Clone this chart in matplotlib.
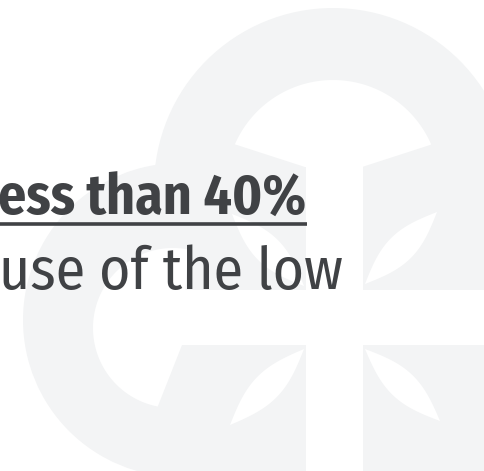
import matplotlib
matplotlib.use('Agg')
import matplotlib.pyplot as plt
import numpy as np
from matplotlib.patches import Circle, Rectangle, Polygon

# slide text (cropped slide, only the visible parts)
line1 = "ess than 40%"
line2 = "use of the low"

W, H = 484, 471
TEXT = '#404245'
LOGO = '#f3f4f5'
FONT = ['Fira Sans Condensed', 'PT Sans', 'DejaVu Sans']

fig = plt.figure(figsize=(W / 100, H / 100), dpi=100)
ax = fig.add_axes([0, 0, 1, 1])
ax.set_xlim(0, W)
ax.set_ylim(H, 0)
ax.axis('off')


def arc(cx, cy, r, t0, t1, n=80):
    t = np.radians(np.linspace(t0, t1, n))
    return np.column_stack([cx + r * np.cos(t), cy + r * np.sin(t)])


def leaf(p1, p2, w):
    p1, p2 = np.array(p1, float), np.array(p2, float)
    d = p2 - p1
    nrm = np.array([-d[1], d[0]]) / np.hypot(*d)
    t = np.linspace(0, 1, 40)
    side1 = p1 + np.outer(t, d) + np.outer(w * np.sin(np.pi * t), nrm)
    side2 = p1 + np.outer(t[::-1], d) - np.outer(w * np.sin(np.pi * t[::-1]), nrm)
    return np.vstack([side1, side2])


# faint background logo
ax.add_patch(Circle((333, 187), 179, color=LOGO, lw=0))
ax.add_patch(Circle((180, 320), 157, color=LOGO, lw=0))
ax.add_patch(Rectangle((200, 143), 290, 330, color=LOGO, lw=0))

# inner of lower-left ring
pts = arc(173, 328, 80, 280, 101)
pts = np.vstack([pts, [[182, 345], [188, 250]]])
ax.add_patch(Polygon(pts, closed=True, color='white', lw=0))

# inner cap of the upper ring
cap = arc(333, 187, 107, 203.5, 336.5)
cap = np.vstack([cap, [[430, 145], [362, 167], [305, 167], [237, 145]]])
ax.add_patch(Polygon(cap, closed=True, color='white', lw=0))

# the cross
ax.add_patch(Rectangle((120, 290), 370, 55, color='white', lw=0))
ax.add_patch(Rectangle((306, 160), 57, 320, color='white', lw=0))

# leaves
for a, b in [((365, 284), (437, 212)), ((365, 349), (440, 421)),
             ((304, 349), (230, 425)), ((304, 286), (232, 214))]:
    ax.add_patch(Polygon(leaf(a, b, 14), closed=True, color='white', lw=0))

# text
fs = 40
t1 = ax.text(306, 215, line1, fontsize=fs, family=FONT, fontweight='bold',
             color=TEXT, ha='right', va='baseline')
t2 = ax.text(343, 289, line2, fontsize=fs, family=FONT,
             color=TEXT, ha='right', va='baseline')
fig.canvas.draw()
r = fig.canvas.get_renderer()
w1 = t1.get_window_extent(r).width
w2 = t2.get_window_extent(r).width
t1.set_fontsize(fs * 308 / w1)
t2.set_fontsize(fs * 344 / w2)

ax.plot([-5, 307], [224, 224], color=TEXT, lw=2.6, solid_capstyle='butt')

fig.savefig('out.png', dpi=100)
